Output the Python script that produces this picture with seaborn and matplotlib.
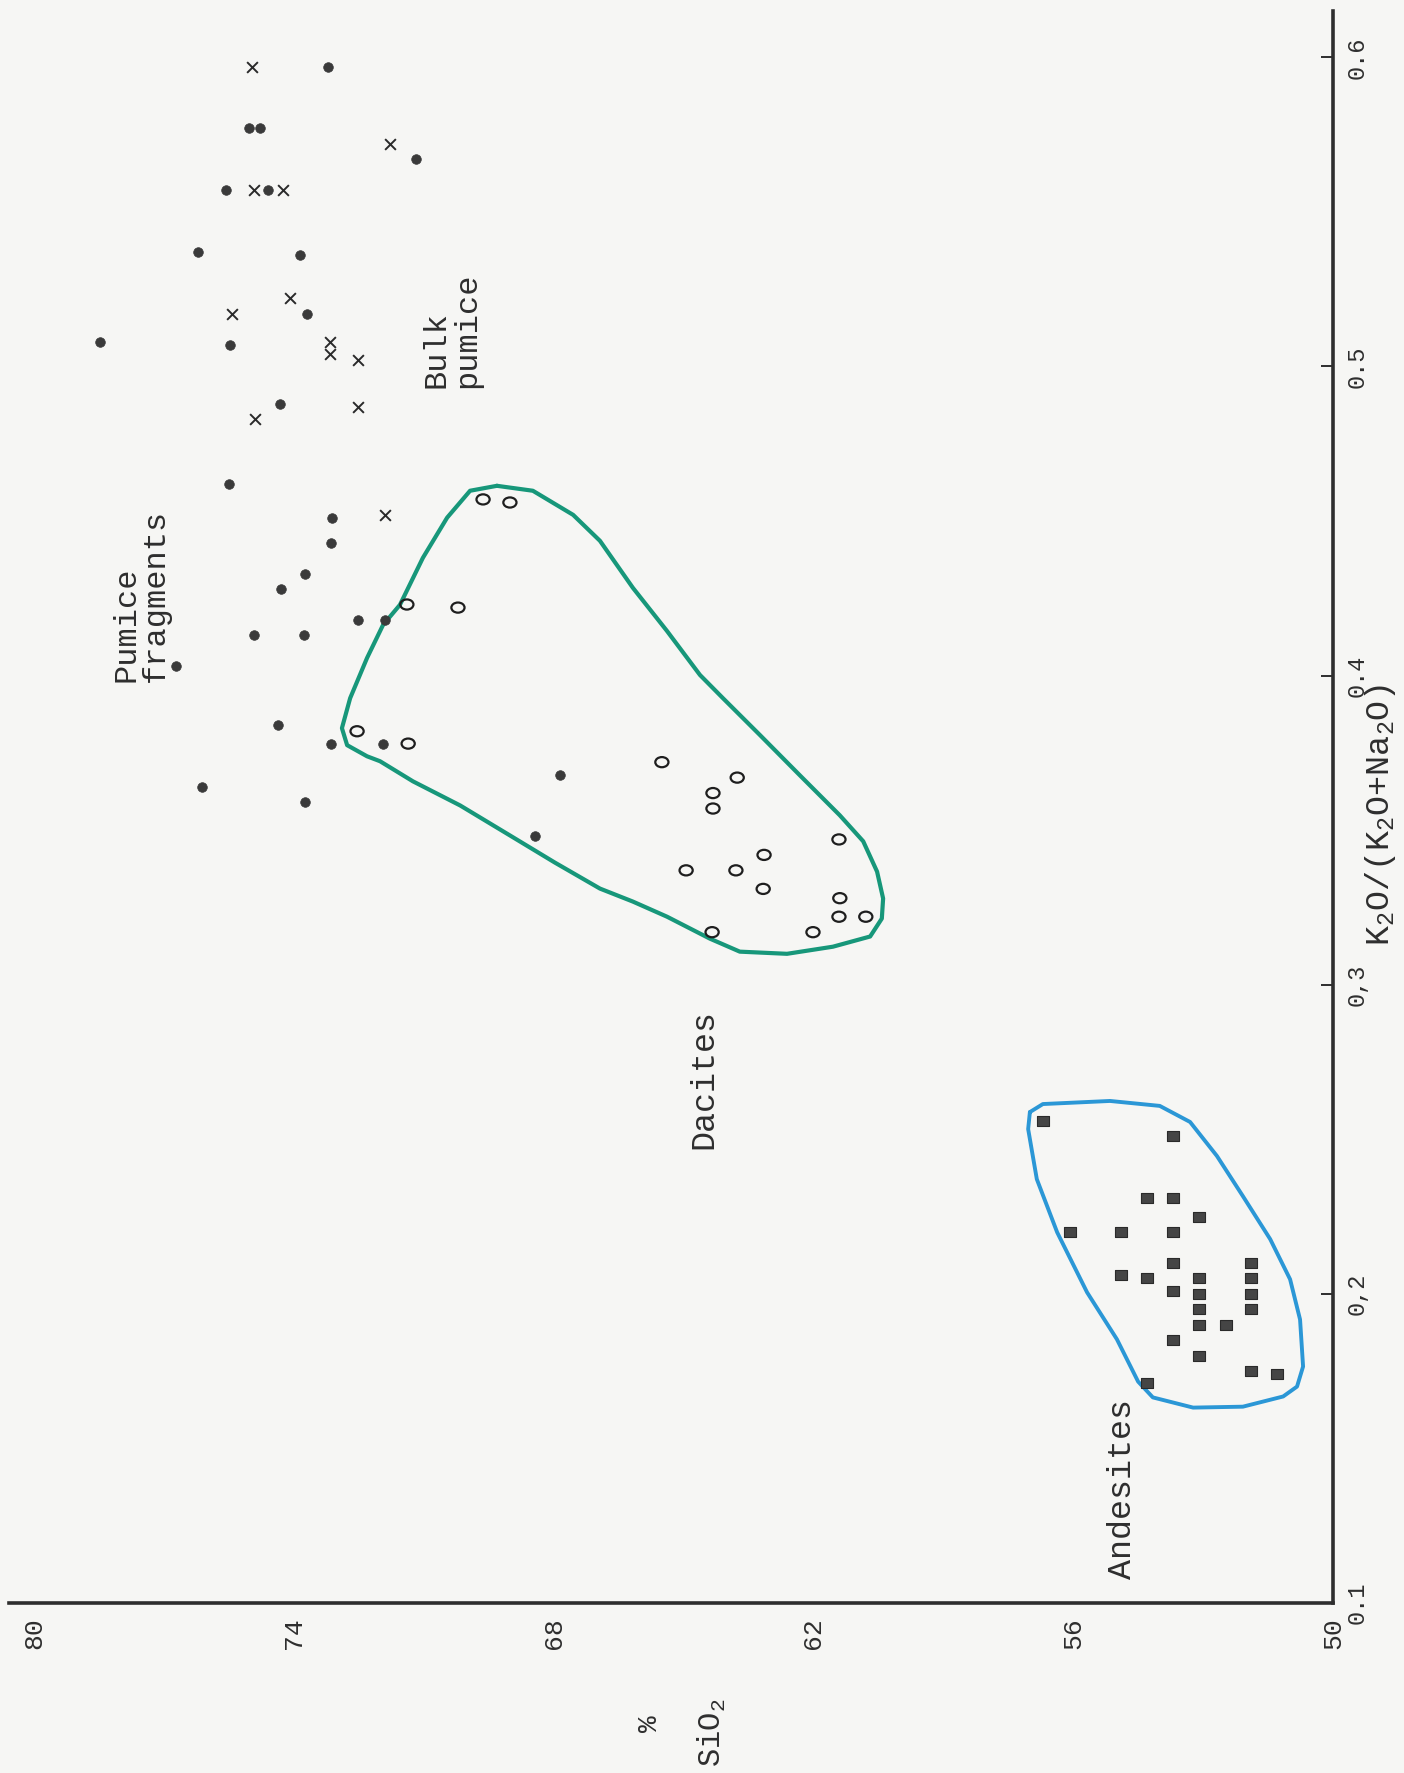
import numpy as np
import pandas as pd
import matplotlib
matplotlib.use("Agg")
import matplotlib.pyplot as plt
import seaborn as sns
from matplotlib.path import Path
from matplotlib.transforms import Affine2D

sns.set_theme(style="white")
plt.rcParams["font.family"] = ["Liberation Mono", "DejaVu Sans Mono"]
plt.rcParams["mathtext.fontset"] = "custom"
plt.rcParams["mathtext.rm"] = "Liberation Mono"
plt.rcParams["mathtext.it"] = "Liberation Mono:italic"
plt.rcParams["mathtext.bf"] = "Liberation Mono:bold"

# ---- data: SiO2 (wt %) and K2O/(K2O+Na2O) ----
pumice_frag_sio2 = [75.50, 73.12, 73.14, 73.74, 74.30, 72.52, 71.89, 74.92, 73.76,
                    76.72, 74.37, 73.14, 71.94, 67.85, 76.12, 73.74, 68.43,
                    78.48, 75.47, 73.70, 74.32,
                    73.21, 75.03, 74.78, 71.18, 75.57, 74.60, 76.21, 73.86]
pumice_frag_k = [0.462, 0.451, 0.443, 0.433, 0.428, 0.418, 0.418, 0.413, 0.413,
                 0.403, 0.384, 0.378, 0.378, 0.368, 0.364, 0.359, 0.348,
                 0.508, 0.507, 0.517, 0.488,
                 0.597, 0.577, 0.577, 0.567, 0.557, 0.557, 0.537, 0.536]

bulk_pumice_sio2 = [71.89, 75.43, 74.09, 73.16, 73.16, 72.52, 74.90, 72.52,
                    74.97, 71.78, 74.92, 74.25]
bulk_pumice_k = [0.452, 0.517, 0.522, 0.508, 0.504, 0.502, 0.483, 0.487,
                 0.597, 0.572, 0.557, 0.557]

dacite_sio2 = [69.63, 69.01, 71.39, 70.21, 72.54, 71.36, 65.50, 63.76, 64.32, 64.32,
               61.41, 63.14, 64.94, 63.79, 63.16, 61.39, 61.41, 60.79, 64.34, 62.01]
dacite_k = [0.457, 0.456, 0.423, 0.422, 0.382, 0.378, 0.372, 0.367, 0.362, 0.357,
            0.347, 0.342, 0.337, 0.337, 0.331, 0.328, 0.322, 0.322, 0.317, 0.317]

andesite_sio2 = [56.70, 53.70, 54.30, 53.70, 53.09, 56.07, 54.90, 53.70, 53.70, 51.89,
                 54.90, 54.30, 53.09, 51.89, 53.70, 53.09, 51.89, 53.09, 51.89, 53.09,
                 52.47, 53.70, 53.09, 51.89, 51.29, 54.30]
andesite_k = [0.256, 0.251, 0.231, 0.231, 0.225, 0.220, 0.220, 0.220, 0.210, 0.210,
              0.206, 0.205, 0.205, 0.205, 0.201, 0.200, 0.200, 0.195, 0.195, 0.190,
              0.190, 0.185, 0.180, 0.175, 0.174, 0.171]

# hand-drawn field boundaries
dacite_field_sio2 = [69.31, 68.48, 67.55, 66.93, 66.17, 65.38, 64.62, 64.09, 63.23, 62.31,
                     61.39, 60.85, 60.53, 60.39, 60.42, 60.69, 61.55, 62.61, 63.70, 64.39,
                     65.38, 66.17, 66.93, 67.97, 69.01, 70.16, 71.25, 72.01, 72.31, 72.77,
                     72.89, 72.70, 72.31, 71.94, 71.55, 71.02, 70.46, 69.93, 69.31]
dacite_field_k = [0.4614, 0.4598, 0.4520, 0.4436, 0.4284, 0.4144, 0.4002, 0.3927, 0.3807, 0.3677,
                  0.3548, 0.3464, 0.3366, 0.3279, 0.3214, 0.3156, 0.3123, 0.3100, 0.3107, 0.3149,
                  0.3220, 0.3269, 0.3311, 0.3395, 0.3483, 0.3580, 0.3658, 0.3723, 0.3739, 0.3775,
                  0.3830, 0.3927, 0.4057, 0.4164, 0.4229, 0.4381, 0.4511, 0.4598, 0.4614]

andesite_field_sio2 = [57.00, 56.70, 55.15, 54.00, 53.30, 52.68, 52.08, 51.45, 50.99, 50.76,
                       50.69, 50.83, 51.15, 52.08, 53.23, 54.16, 54.50, 54.99, 55.68, 56.37,
                       56.84, 57.04, 57.00]
andesite_field_k = [0.2588, 0.2614, 0.2624, 0.2608, 0.2556, 0.2446, 0.2316, 0.2177, 0.2047, 0.1917,
                    0.1765, 0.1700, 0.1668, 0.1635, 0.1632, 0.1665, 0.1716, 0.1853, 0.2005, 0.2199,
                    0.2371, 0.2533, 0.2588]

sio2_ticks = [80, 74, 68, 62, 56, 50]
k_ticks = [0.1, 0.2, 0.3, 0.4, 0.5, 0.6]
k_tick_labels = ["0.1", "0,2", "0,3", "0.4", "0.5", "0.6"]

# ---- figure ----
paper = "#f6f6f4"
ink = "#2e2e2e"
fig = plt.figure(figsize=(14.04, 17.73), dpi=100, facecolor=paper)
ax = fig.add_axes([0.0064, 0.0959, 0.9430, 0.8979])
ax.set_facecolor(paper)

ax.set_xlim(80.58, 50)
ax.set_ylim(0.1, 0.615)

# field outlines
sns.lineplot(x=dacite_field_sio2, y=dacite_field_k, sort=False, estimator=None,
             color="#17977a", linewidth=3.0, ax=ax, solid_joinstyle="round")
sns.lineplot(x=andesite_field_sio2, y=andesite_field_k, sort=False, estimator=None,
             color="#2b97d6", linewidth=2.8, ax=ax, solid_joinstyle="round")

# marker shapes: typed "o" and block (both centred on the point)
oval = Path.unit_circle().transformed(Affine2D().scale(1.3, 1.0))
block = Path([(-0.6, -0.5), (0.6, -0.5), (0.6, 0.5), (-0.6, 0.5), (-0.6, -0.5)],
             [Path.MOVETO, Path.LINETO, Path.LINETO, Path.LINETO, Path.CLOSEPOLY])

sns.scatterplot(x=pumice_frag_sio2, y=pumice_frag_k, marker="o", s=48,
                color="#3a3a3a", edgecolor="#3a3a3a", linewidth=0.5, ax=ax, zorder=4)
sns.scatterplot(x=bulk_pumice_sio2, y=bulk_pumice_k, marker="x", s=60,
                color="#2a2a2a", linewidth=1.4, ax=ax, zorder=4)
sns.scatterplot(x=dacite_sio2, y=dacite_k, marker=oval, s=90,
                facecolor="none", edgecolor="#1e1e1e", linewidth=1.6, ax=ax, zorder=4)
sns.scatterplot(x=andesite_sio2, y=andesite_k, marker=block, s=64,
                color="#454545", edgecolor="#2a2a2a", linewidth=0.8, ax=ax, zorder=4)

# axes frame: only SiO2 (bottom) and ratio (right) axes
for side in ("top", "left"):
    ax.spines[side].set_visible(False)
for side in ("bottom", "right"):
    ax.spines[side].set_color(ink)
    ax.spines[side].set_linewidth(2.6)

ax.yaxis.tick_right()
ax.set_xticks(sio2_ticks)
ax.set_xticklabels([str(t) for t in sio2_ticks], rotation=90, fontsize=19, color=ink)
ax.set_yticks(k_ticks)
ax.set_yticklabels(k_tick_labels, rotation=90, va="center", fontsize=17, color=ink)
ax.tick_params(axis="x", direction="in", length=9, width=1.4, colors=ink, pad=10)
ax.tick_params(axis="y", direction="in", length=9, width=1.4, colors=ink, pad=9)
ax.set_xlabel("")
ax.set_ylabel("")
ax.grid(False)

# group labels
ax.text(77.53, 0.398, "Pumice\nfragments", rotation=90, ha="center", va="bottom",
        multialignment="left", fontsize=23, color=ink, linespacing=1.0)
ax.text(70.35, 0.493, "Bulk\npumice", rotation=90, ha="center", va="bottom",
        multialignment="left", fontsize=23, color=ink, linespacing=1.0)
ax.text(64.53, 0.2695, "Dacites", rotation=90, ha="center", va="center",
        fontsize=24, color=ink)
ax.text(54.87, 0.137, "Andesites", rotation=90, ha="center", va="center",
        fontsize=24, color=ink)

# axis titles
fig.text(0.9836, 0.5403, r"K$_2$O/(K$_2$O+Na$_2$O)", rotation=90,
         ha="center", va="center", fontsize=24, color=ink)
fig.text(0.4630, 0.0276, "%", rotation=90, ha="center", va="center",
         fontsize=20, color=ink)
fig.text(0.5071, 0.0225, r"SiO$_2$", rotation=90, ha="center", va="center",
         fontsize=22, color=ink)

fig.savefig("out.png", dpi=100, facecolor=paper)
